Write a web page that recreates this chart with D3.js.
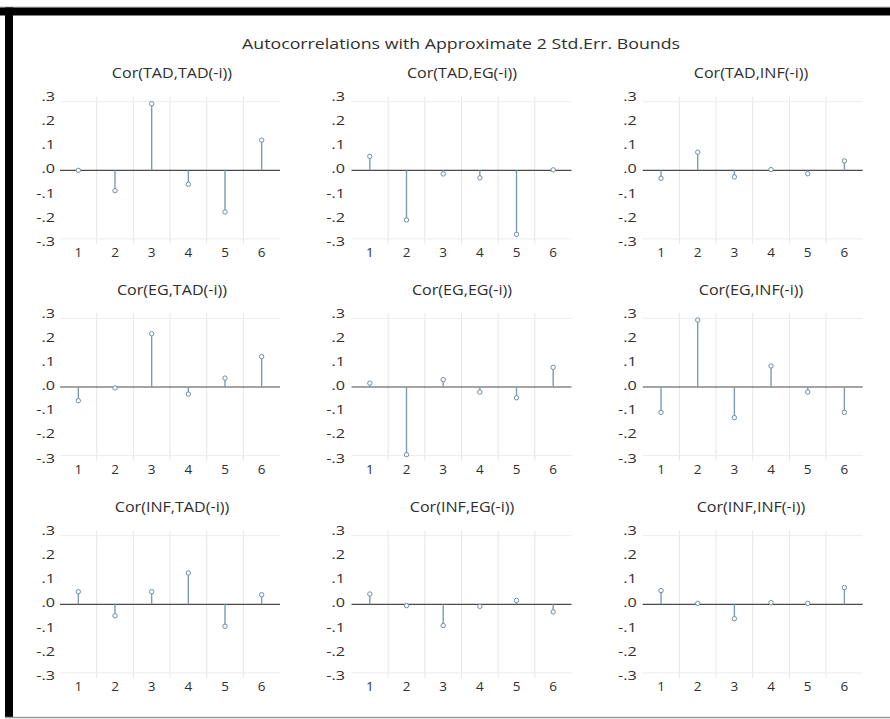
<!DOCTYPE html>
<html><head><meta charset="utf-8">
<script src="https://cdn.jsdelivr.net/npm/d3@7"></script>
<style>body{margin:0;background:#fff}svg{display:block}text{font-family:"Open Sans",sans-serif;fill:#2f2f2f}</style>
</head><body>
<script>
const mainTitle = "Autocorrelations with Approximate 2 Std.Err. Bounds";
const lags = [1, 2, 3, 4, 5, 6];
const yTicks = [0.3, 0.2, 0.1, 0.0, -0.1, -0.2, -0.3];
const yTickLabels = [".3", ".2", ".1", ".0", "-.1", "-.2", "-.3"];
const panelTitles = [
  "Cor(TAD,TAD(-i))", "Cor(TAD,EG(-i))", "Cor(TAD,INF(-i))",
  "Cor(EG,TAD(-i))", "Cor(EG,EG(-i))", "Cor(EG,INF(-i))",
  "Cor(INF,TAD(-i))", "Cor(INF,EG(-i))", "Cor(INF,INF(-i))"
];
const corTADTAD = [0.000, -0.089, 0.291, -0.061, -0.182, 0.132];
const corTADEG  = [0.061, -0.217, -0.016, -0.033, -0.280, 0.002];
const corTADINF = [-0.035, 0.079, -0.029, 0.003, -0.015, 0.041];
const corEGTAD  = [-0.060, -0.004, 0.233, -0.031, 0.039, 0.133];
const corEGEG   = [0.017, -0.296, 0.032, -0.022, -0.047, 0.086];
const corEGINF  = [-0.111, 0.293, -0.134, 0.092, -0.022, -0.111];
const corINFTAD = [0.055, -0.050, 0.055, 0.137, -0.096, 0.042];
const corINFEG  = [0.045, -0.006, -0.093, -0.009, 0.017, -0.033];
const corINFINF = [0.060, 0.004, -0.063, 0.007, 0.004, 0.073];
const panelValues = [corTADTAD, corTADEG, corTADINF, corEGTAD, corEGEG, corEGINF, corINFTAD, corINFEG, corINFINF];

const W = 890, H = 719;
const svg = d3.select("body").append("svg").attr("width", W).attr("height", H);

function stretch(sel, f) {
  sel.each(function () {
    const w = this.getComputedTextLength();
    d3.select(this).attr("textLength", w * f).attr("lengthAdjust", "spacingAndGlyphs");
  });
  return sel;
}

// frame
svg.append("line").attr("x1",0).attr("x2",W).attr("y1",7).attr("y2",7).attr("stroke","#bbb");
svg.append("rect").attr("x",0).attr("y",7.5).attr("width",W).attr("height",8).attr("fill","#000");
svg.append("rect").attr("x",5).attr("y",7.5).attr("width",8).attr("height",710).attr("fill","#000");
svg.append("line").attr("x1",5).attr("x2",W).attr("y1",717.5).attr("y2",717.5).attr("stroke","#999").attr("stroke-width",1.5);

svg.append("text").attr("x",461).attr("y",45).attr("text-anchor","middle")
  .attr("dominant-baseline","middle").style("font-size","14px").text(mainTitle)
  .attr("textLength", 438).attr("lengthAdjust", "spacingAndGlyphs");

const colX = [60, 351.5, 642.7];
const titleCX = [172, 462, 751];
const labelGap = [5, 6.5, 6];
const rowZero = [170.3, 387, 604.3];
const pw = 220, half = 68.6;

panelValues.forEach((vals, i) => {
  const c = i % 3, r = Math.floor(i / 3);
  const x0 = colX[c], z = rowZero[r];
  const x = d3.scaleBand().domain(lags).range([x0, x0 + pw]);
  const y = d3.scaleLinear().domain([-0.3, 0.3]).range([z + half, z - half]);
  const yl = d3.scaleLinear().domain([-0.3, 0.3]).range([z + 72, z - 73]);
  const g = svg.append("g");

  // vertical grid between lags
  lags.slice(1).forEach(l => {
    g.append("line").attr("x1", x(l)).attr("x2", x(l)).attr("y1", y(0.3) - 5).attr("y2", y(-0.3) + 5)
      .attr("stroke", "#e6e6e6").attr("stroke-width", 1);
  });
  [0.3, -0.3].forEach(v => {
    g.append("line").attr("x1", x0).attr("x2", x0 + pw).attr("y1", y(v)).attr("y2", y(v))
      .attr("stroke", "#ececec").attr("stroke-width", 1);
  });

  // y tick labels
  yTicks.forEach((v, k) => {
    stretch(g.append("text").attr("x", x0 - labelGap[c]).attr("y", yl(v)).attr("text-anchor", "end")
      .attr("dominant-baseline", "middle").style("font-size", "13.5px").text(yTickLabels[k]), 1.2);
  });
  // x axis labels
  lags.forEach(l => {
    g.append("text").attr("x", x(l) + x.bandwidth() / 2).attr("y", z + 83).attr("text-anchor", "middle")
      .attr("dominant-baseline", "middle").style("font-size", "13.5px").text(l);
  });

  // zero line
  g.append("line").attr("x1", x0).attr("x2", x0 + pw).attr("y1", y(0)).attr("y2", y(0))
    .attr("stroke", "#4a4a4a").attr("stroke-width", 1.2);

  // stems
  g.selectAll(".stem").data(vals).enter().append("line")
    .attr("x1", (d, k) => x(lags[k]) + x.bandwidth() / 2)
    .attr("x2", (d, k) => x(lags[k]) + x.bandwidth() / 2)
    .attr("y1", y(0)).attr("y2", d => y(d))
    .attr("stroke", "#7d9cb0").attr("stroke-width", 1.4);
  g.selectAll(".pt").data(vals).enter().append("circle")
    .attr("cx", (d, k) => x(lags[k]) + x.bandwidth() / 2)
    .attr("cy", d => y(d)).attr("r", 2.2)
    .attr("fill", "#fff").attr("stroke", "#6f8ea3").attr("stroke-width", 1);

  // subtitle
  stretch(g.append("text").attr("x", titleCX[c]).attr("y", z - 96).attr("text-anchor", "middle")
    .attr("dominant-baseline", "middle").style("font-size", "14px").text(panelTitles[i]), 1.15);
});
</script>
</body></html>
